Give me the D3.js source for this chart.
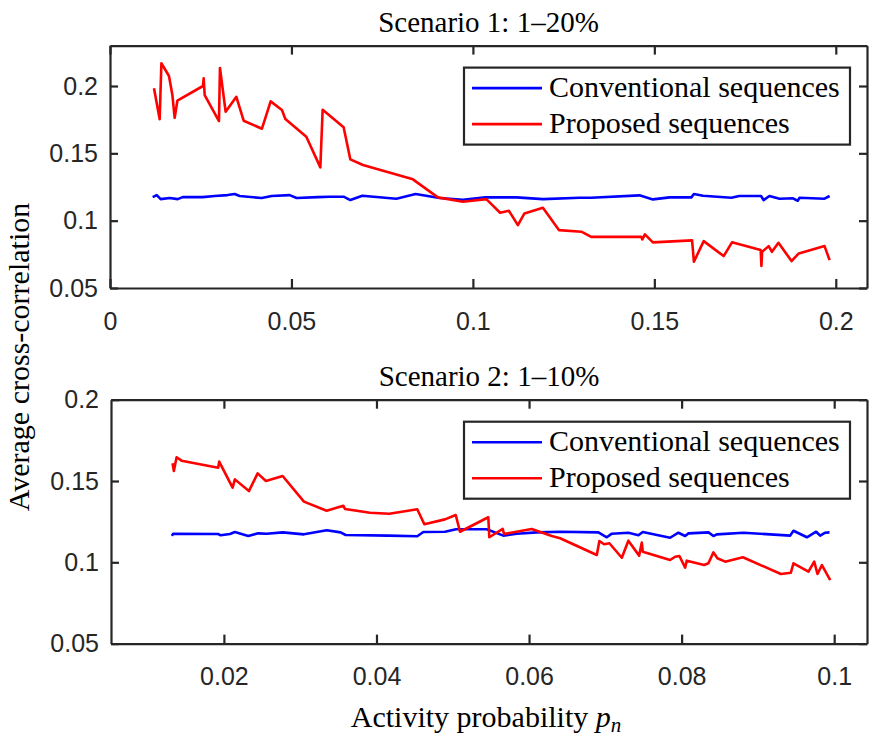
<!DOCTYPE html>
<html>
<head>
<meta charset="utf-8">
<style>
  body { margin: 0; background: #fff; }
  svg { display: block; }
  .tick text { font-family: "Liberation Sans", Arial, sans-serif; font-size: 25px; fill: #262626; }
  .serif { font-family: "Liberation Serif", "Times New Roman", serif; fill: #000; }
</style>
</head>
<body>
<svg width="869" height="739"></svg>
<script src="https://cdn.jsdelivr.net/npm/d3@7"></script>
<script>

// ---- Scenario 1 (1-20%) ----
var s1ConvX = [0.01176, 0.01287, 0.01397, 0.01645, 0.01865, 0.02003, 0.02554, 0.02884, 0.03242, 0.03435, 0.03573, 0.04179, 0.04455, 0.0495, 0.05143, 0.05722,
    0.06052, 0.06438, 0.06623, 0.06953, 0.0789, 0.08422, 0.09083, 0.09725, 0.1035, 0.112, 0.1193, 0.1294, 0.1326, 0.1459, 0.1496, 0.1542,
    0.1602, 0.1609, 0.1634, 0.1712, 0.1734, 0.1794, 0.1801, 0.1817, 0.1845, 0.1882, 0.1895, 0.19, 0.1969, 0.1983];
var s1ConvY = [0.1175, 0.119, 0.116, 0.1168, 0.116, 0.1175, 0.1175, 0.1183, 0.119, 0.1198, 0.1183, 0.1168, 0.1183, 0.119, 0.1168, 0.1175,
    0.1178, 0.1178, 0.1153, 0.1185, 0.1163, 0.1198, 0.1168, 0.1155, 0.1173, 0.1173, 0.116, 0.117, 0.117, 0.1188, 0.1158, 0.1173,
    0.1173, 0.1198, 0.1185, 0.117, 0.1183, 0.1183, 0.1153, 0.1183, 0.1163, 0.1166, 0.1148, 0.117, 0.1163, 0.1183];

var s1PropX = [0.01212, 0.01369, 0.01416, 0.01625, 0.01719, 0.01782, 0.01857, 0.02562, 0.02581, 0.02609, 0.03003, 0.0303, 0.03187, 0.03482,
    0.03683, 0.04187, 0.04427, 0.04738, 0.04832, 0.0541, 0.05796, 0.0586, 0.06438, 0.06623, 0.0697, 0.08347, 0.09036, 0.09725, 0.1037,
    0.1075, 0.1099, 0.1124, 0.1142, 0.1193, 0.1237, 0.1299, 0.1326, 0.1464, 0.1467, 0.1474, 0.1496, 0.1604, 0.1609, 0.1636, 0.1691,
    0.1714, 0.1793, 0.1795, 0.1797, 0.1815, 0.1824, 0.1842, 0.1878, 0.1898, 0.1969, 0.1983];
var s1PropY = [0.1983, 0.1753, 0.2169, 0.2074, 0.1933, 0.1764, 0.1891, 0.2, 0.2057, 0.1933, 0.174, 0.2134, 0.1809, 0.192,
    0.1742, 0.1683, 0.1886, 0.1822, 0.1755, 0.1623, 0.1396, 0.1824, 0.1693, 0.1455, 0.1413, 0.1307, 0.1173, 0.114, 0.116,
    0.1059, 0.1074, 0.0967, 0.1054, 0.1096, 0.093, 0.0918, 0.088, 0.088, 0.0861, 0.0898, 0.0839, 0.0854, 0.0695, 0.0848, 0.0737,
    0.0839, 0.0782, 0.0663, 0.0769, 0.0811, 0.0769, 0.0836, 0.07, 0.0757, 0.0811, 0.0707];

// ---- Scenario 2 (1-10%) ----
var s2ConvX = [0.01318, 0.01335, 0.01925, 0.01957, 0.02079, 0.02144, 0.02319, 0.0245, 0.0256, 0.0277, 0.03049, 0.03347, 0.0353, 0.03596,
    0.04155, 0.04535, 0.04614, 0.04898, 0.05043, 0.05445, 0.05663, 0.05839, 0.06101, 0.06407, 0.06909, 0.07019, 0.07085, 0.07302,
    0.07434, 0.07491, 0.07849, 0.07958, 0.08046, 0.0809, 0.08352, 0.08417, 0.08462, 0.0881, 0.09423, 0.09466, 0.09642, 0.09764,
    0.09816, 0.09882, 0.09938];
var s2ConvY = [0.1162, 0.1176, 0.1174, 0.1166, 0.1174, 0.1186, 0.1162, 0.1178, 0.1176, 0.1184, 0.1172, 0.1197, 0.1184, 0.1168,
    0.1164, 0.116, 0.1186, 0.1188, 0.1203, 0.1203, 0.1164, 0.1176, 0.1184, 0.1188, 0.1184, 0.1154, 0.1176, 0.1182,
    0.1166, 0.1186, 0.1151, 0.1182, 0.1162, 0.1178, 0.1184, 0.1162, 0.1172, 0.1182, 0.1164, 0.1194, 0.1154, 0.1188,
    0.1164, 0.1182, 0.1184];

var s2PropX = [0.01327, 0.01344, 0.0138, 0.01445, 0.01925, 0.01938, 0.02114, 0.02144, 0.02328, 0.02442, 0.02551, 0.0277, 0.03049,
    0.03347, 0.03565, 0.03587, 0.03915, 0.04168, 0.04535, 0.04627, 0.04898, 0.05039, 0.05095, 0.05466, 0.05479, 0.05655, 0.05672,
    0.06035, 0.06298, 0.06407, 0.06888, 0.06922, 0.06984, 0.07053, 0.07216, 0.07302, 0.07443, 0.07478, 0.07491, 0.07849, 0.07915,
    0.07971, 0.08046, 0.08068, 0.08295, 0.08351, 0.08417, 0.08469, 0.0857, 0.08803, 0.09301, 0.09432, 0.09466, 0.09663, 0.09738,
    0.09781, 0.09839, 0.09948];
var s2PropY = [0.1609, 0.1562, 0.1646, 0.1625, 0.1582, 0.1619, 0.1459, 0.151, 0.1438, 0.1547, 0.15, 0.1531, 0.1373,
    0.1317, 0.1348, 0.1328, 0.1305, 0.1299, 0.1326, 0.1234, 0.1264, 0.1291, 0.1188, 0.1277, 0.1154, 0.1205, 0.1174,
    0.1205, 0.1162, 0.1148, 0.1045, 0.1131, 0.1111, 0.1117, 0.1028, 0.1133, 0.1041, 0.1121, 0.1065, 0.1014, 0.1034,
    0.1039, 0.0967, 0.101, 0.0983, 0.0994, 0.1061, 0.1025, 0.1004, 0.1031, 0.0928, 0.0936, 0.0994, 0.0942, 0.1004,
    0.0928, 0.0983, 0.0891];

// ticks and labels
var s1XTicks = [0, 0.05, 0.1, 0.15, 0.2];
var s1XLabels = ["0", "0.05", "0.1", "0.15", "0.2"];
var s2XTicks = [0.02, 0.04, 0.06, 0.08, 0.1];
var s2XLabels = ["0.02", "0.04", "0.06", "0.08", "0.1"];
var yTicks = [0.05, 0.1, 0.15, 0.2];
var yLabels = ["0.05", "0.1", "0.15", "0.2"];
var seriesNames = ["Conventional sequences", "Proposed sequences"];
var seriesColors = ["#0000ff", "#ff0000"];

var svg = d3.select("svg");
var axisColor = "#262626";

var panels = [
    {title: "Scenario 1: 1\u201320%", box: [110, 867, 45.6, 288], xDom: [0, 0.2086], yDom: [0.05, 0.23],
     xt: s1XTicks, xl: s1XLabels, series: [[s1ConvX, s1ConvY], [s1PropX, s1PropY]]},
    {title: "Scenario 2: 1\u201310%", box: [111, 867, 399.7, 643.6], xDom: [0.0052, 0.1043], yDom: [0.05, 0.2],
     xt: s2XTicks, xl: s2XLabels, series: [[s2ConvX, s2ConvY], [s2PropX, s2PropY]]}
];

panels.forEach(function(p) {
    var L = p.box[0], R = p.box[1], T = p.box[2], B = p.box[3];
    var x = d3.scaleLinear().domain(p.xDom).range([L, R]);
    var y = d3.scaleLinear().domain(p.yDom).range([B, T]);

    var g = svg.append("g");

    // data lines
    var line = d3.line().x(function(d) { return x(d[0]); }).y(function(d) { return y(d[1]); });
    p.series.forEach(function(s, i) {
        var pts = d3.zip(s[0], s[1]);
        g.append("path")
            .attr("d", line(pts))
            .attr("fill", "none")
            .attr("stroke", seriesColors[i])
            .attr("stroke-width", 2.6)
            .attr("stroke-linejoin", "round");
    });

    // axes (ticks pointing inward, box)
    var fmtX = function(d, i) { return p.xl[i]; };
    var fmtY = function(d, i) { return yLabels[i]; };
    var ax = [
        g.append("g").attr("transform", "translate(0," + B + ")")
            .call(d3.axisBottom(x).tickValues(p.xt).tickFormat(fmtX).tickSizeInner(-9).tickSizeOuter(0).tickPadding(24)),
        g.append("g").attr("transform", "translate(0," + T + ")")
            .call(d3.axisTop(x).tickValues(p.xt).tickFormat("").tickSizeInner(-9).tickSizeOuter(0)),
        g.append("g").attr("transform", "translate(" + L + ",0)")
            .call(d3.axisLeft(y).tickValues(yTicks).tickFormat(fmtY).tickSizeInner(-8).tickSizeOuter(0).tickPadding(12)),
        g.append("g").attr("transform", "translate(" + R + ",0)")
            .call(d3.axisRight(y).tickValues(yTicks).tickFormat("").tickSizeInner(-8).tickSizeOuter(0))
    ];
    ax.forEach(function(a) {
        a.selectAll("path.domain").attr("stroke", axisColor).attr("stroke-width", 2.2);
        a.selectAll(".tick line").attr("stroke", axisColor).attr("stroke-width", 2.2);
        a.selectAll(".tick text").attr("font-size", null);
    });

    // title
    svg.append("text").attr("class", "serif")
        .attr("x", (L + R) / 2).attr("y", T - 14)
        .attr("text-anchor", "middle").attr("font-size", 29)
        .text(p.title);

    // legend
    var lw = 386, lh = 77, lx = R - 17 - lw, ly = T + 22;
    var leg = svg.append("g").attr("transform", "translate(" + lx + "," + ly + ")");
    leg.append("rect").attr("width", lw).attr("height", lh)
        .attr("fill", "#fff").attr("stroke", axisColor).attr("stroke-width", 2.2);
    seriesNames.forEach(function(name, i) {
        var yy = 20.5 + i * 36;
        leg.append("line").attr("x1", 8).attr("x2", 78).attr("y1", yy).attr("y2", yy)
            .attr("stroke", seriesColors[i]).attr("stroke-width", 2.6);
        leg.append("text").attr("class", "serif")
            .attr("x", 85).attr("y", yy + 9)
            .attr("font-size", 30)
            .text(name);
    });
});

// shared axis labels
svg.append("text").attr("class", "serif")
    .attr("transform", "translate(29,357) rotate(-90)")
    .attr("text-anchor", "middle").attr("font-size", 30)
    .text("Average cross-correlation");

var xl = svg.append("text").attr("class", "serif")
    .attr("x", 486).attr("y", 727)
    .attr("text-anchor", "middle").attr("font-size", 30);
xl.append("tspan").text("Activity probability ");
xl.append("tspan").attr("font-style", "italic").text("p");
xl.append("tspan").attr("font-style", "italic").attr("font-size", 21).attr("dy", 5).text("n");

</script>
</body>
</html>
